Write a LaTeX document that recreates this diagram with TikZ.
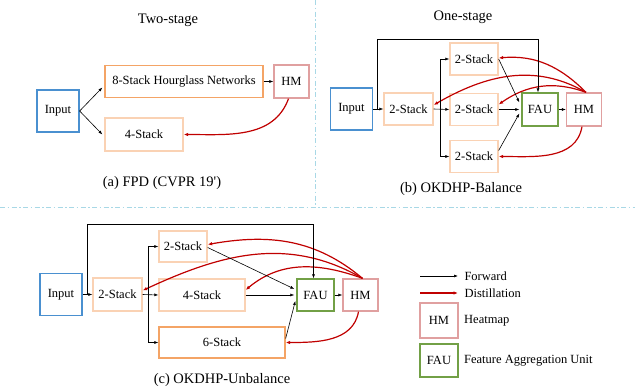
\documentclass[tikz,border=0pt]{standalone}
\usepackage{fontspec}
\setmainfont{Liberation Serif}
\usepackage{tikz}
\usetikzlibrary{arrows.meta, positioning}
\usepackage{xcolor}
\definecolor{boxblue}{HTML}{4A90D0}
\definecolor{boxorange}{HTML}{F4A466}
\definecolor{boxpeach}{HTML}{FAD2B4}
\definecolor{boxgreen}{HTML}{72A046}
\definecolor{boxpink}{HTML}{E0A0A0}
\definecolor{distred}{HTML}{C00000}
\definecolor{seplight}{HTML}{A8D8E6}

\begin{document}
\begin{tikzpicture}[x=1pt, y=-1pt,
    every node/.style={font=\fontsize{12.5}{14}\selectfont},
    captxt/.style={font=\fontsize{14.5}{16}\selectfont},
    blk/.style={draw, line width=1.3pt, fill=white, inner sep=0pt},
    inbox/.style={blk, draw=boxblue, minimum width=42pt, minimum height=42pt},
    stk/.style={blk, draw=boxpeach, minimum height=32pt},
    bigstk/.style={blk, draw=boxorange, minimum height=32pt},
    faubox/.style={blk, draw=boxgreen, minimum width=36pt, minimum height=33pt},
    hmbox/.style={blk, draw=boxpink, minimum width=35pt, minimum height=33pt},
    fwd/.style={-{Latex[length=4pt,width=3pt]}, line width=0.6pt},
    dist/.style={-{Latex[length=4.5pt,width=3.5pt]}, line width=1.2pt, draw=distred},
    sep/.style={draw=seplight, line width=1pt, dash pattern=on 5pt off 2.5pt on 1.5pt off 2.5pt}
    ]
    \useasboundingbox (0,0) rectangle (635,388);

    % separators
    \draw[sep] (315,0) -- (315,207);
    \draw[sep] (0,207) -- (635,207);

    % (a) two-stage
    \node[captxt] (ttl_a) at (168,20) {Two-stage};
    \node[inbox] (in_a) at (58,111) {Input};
    \node[bigstk, minimum width=158pt] (hg8) at (184,81.5) {8-Stack Hourglass Networks};
    \node[hmbox] (hm_a) at (291.5,81.5) {HM};
    \node[stk, minimum width=78pt, minimum height=33pt] (s4_a) at (144,134.5) {4-Stack};
    \node[captxt] (cap_a) at (162,183) {(a) FPD (CVPR 19\textquotesingle)};

    \draw[dist] ([xshift=-3pt]hm_a.south) to[out=-110,in=0] (s4_a.east);
    \draw[fwd] (in_a.east) -- ([xshift=-2pt,yshift=-6pt]hg8.west);
    \draw[fwd] (in_a.east) -- ([xshift=-2pt]s4_a.west);
    \draw[fwd] (hg8.east) -- (hm_a.west);

    % (b) one-stage, balance
    \node[captxt] (ttl_b) at (463,17) {One-stage};
    \node[inbox] (in_b) at (351.5,109) {Input};
    \node[stk, minimum width=49pt] (s2_b) at (408.5,109) {2-Stack};
    \node[stk, minimum width=48pt] (s2t_b) at (474,59) {2-Stack};
    \node[stk, minimum width=48pt] (s2m_b) at (474,109.5) {2-Stack};
    \node[stk, minimum width=48pt] (s2b_b) at (474,156.5) {2-Stack};
    \node[faubox] (fau_b) at (540,109.5) {FAU};
    \node[hmbox] (hm_b) at (584,109.5) {HM};
    \node[captxt] (cap_b) at (461,189) {(b) OKDHP-Balance};

    \draw[dist] ([xshift=2pt]hm_b.north) to[out=135,in=5] ([yshift=1pt]s2t_b.east);
    \draw[dist] ([xshift=2pt]hm_b.north) to[out=150,in=30] ([yshift=4pt]s2_b.east);
    \draw[dist] ([xshift=2pt]hm_b.north) to[out=160,in=35] ([yshift=5pt]s2m_b.east);
    \draw[dist] ([xshift=-2pt]hm_b.south) to[out=-100,in=0] (s2b_b.east);

    \coordinate (up_b) at (377,39);
    \coordinate (br_b) at (440,109);
    \draw[fwd] (in_b.east) -- (s2_b.west);
    \draw[fwd] (up_b |- in_b.east) -- (up_b) -| ([xshift=-2pt]fau_b.north);
    \draw[fwd] (s2_b.east) -- (s2m_b.west);
    \draw[fwd] (br_b) |- (s2t_b.west);
    \draw[fwd] (br_b) |- (s2b_b.west);
    \draw[fwd] (s2t_b.east) -- ([xshift=-2pt,yshift=7pt]fau_b.west);
    \draw[fwd] (s2m_b.east) -- ([xshift=-2pt]fau_b.west);
    \draw[fwd] ([yshift=6pt]s2b_b.east) -- ([xshift=-2pt,yshift=-4pt]fau_b.west);
    \draw[fwd] (fau_b.east) -- (hm_b.west);

    % (c) one-stage, unbalance
    \node[inbox] (in_c) at (61,294.5) {Input};
    \node[stk, minimum width=49pt, minimum height=33pt] (s2_c) at (117.5,294.5) {2-Stack};
    \node[stk, minimum width=48pt, minimum height=31pt] (s2t_c) at (183,246.5) {2-Stack};
    \node[stk, minimum width=86pt] (s4_c) at (202,295) {4-Stack};
    \node[bigstk, minimum width=126pt, minimum height=31pt] (s6_c) at (222,342.5) {6-Stack};
    \node[faubox, minimum width=37pt, minimum height=32pt] (fau_c) at (315.5,295) {FAU};
    \node[hmbox, minimum height=32pt] (hm_c) at (360.5,295) {HM};
    \node[captxt] (cap_c) at (222,380) {(c) OKDHP-Unbalance};

    \draw[dist] ([xshift=2pt]hm_c.north) to[out=140,in=10] ([yshift=2pt]s2t_c.east);
    \draw[dist] ([xshift=2pt]hm_c.north) to[out=150,in=25] ([yshift=4pt]s2_c.east);
    \draw[dist] ([xshift=2pt]hm_c.north) to[out=160,in=40] ([yshift=5pt]s4_c.east);
    \draw[dist] ([xshift=-2pt]hm_c.south) to[out=-100,in=0] (s6_c.east);

    \coordinate (up_c) at (87,224);
    \coordinate (br_c) at (148,295);
    \draw[fwd] (in_c.east) -- (s2_c.west);
    \draw[fwd] (up_c |- in_c.east) -- (up_c) -| ([xshift=-2pt]fau_c.north);
    \draw[fwd] (s2_c.east) -- (s4_c.west);
    \draw[fwd] (br_c) |- (s2t_c.west);
    \draw[fwd] (br_c) |- (s6_c.west);
    \draw[fwd] ([yshift=-1pt]s2t_c.east) -- ([xshift=-2pt,yshift=6pt]fau_c.west);
    \draw[fwd] (s4_c.east) -- ([xshift=-2pt]fau_c.west);
    \draw[fwd] ([yshift=4pt]s6_c.east) -- ([xshift=-1pt,yshift=-6pt]fau_c.west);
    \draw[fwd] (fau_c.east) -- (hm_c.west);

    % legend
    \coordinate (lf1) at (420,276);
    \coordinate (lf2) at (458,276);
    \coordinate (ld1) at (420,293);
    \coordinate (ld2) at (458,293);
    \draw[fwd] (lf1) -- (lf2);
    \draw[dist] (ld1) -- (ld2);
    \node[anchor=west] (lg_fwd) at (461,276) {Forward};
    \node[anchor=west] (lg_dist) at (461,293) {Distillation};
    \node[hmbox, minimum width=38pt, minimum height=35pt] (lg_hm) at (439,320.5) {HM};
    \node[right=2pt of lg_hm] (lg_hmt) {Heatmap};
    \node[faubox, minimum width=38pt, minimum height=33pt] (lg_fau) at (439,360.5) {FAU};
    \node[right=2pt of lg_fau] (lg_faut) {Feature Aggregation Unit};
\end{tikzpicture}
\end{document}
